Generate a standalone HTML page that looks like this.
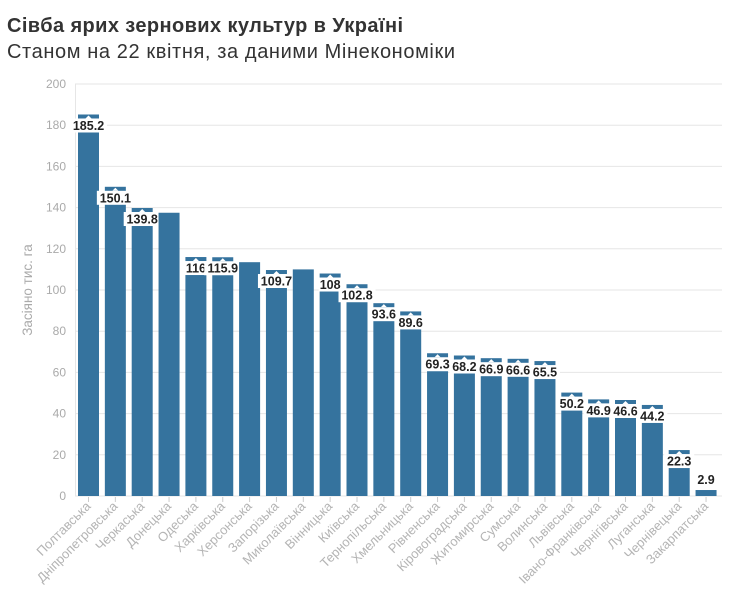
<!DOCTYPE html>
<html><head><meta charset="utf-8"><style>
body{margin:0;background:#fff;}
svg{display:block;font-family:"Liberation Sans","DejaVu Sans",sans-serif;}
</style></head><body>
<svg id="s" width="736" height="597" viewBox="0 0 736 597">
<text x="7" y="32" font-size="20" font-weight="bold" fill="#333" textLength="396">Сівба ярих зернових культур в Україні</text>
<text x="7" y="58" font-size="20" fill="#333" textLength="448">Станом на 22 квітня, за даними Мінекономіки</text>
</svg>
<script>
var s=document.getElementById('s'),ns='http://www.w3.org/2000/svg';
function el(t,a,txt){var e=document.createElementNS(ns,t);for(var k in a)e.setAttribute(k,a[k]);if(txt!=null)e.textContent=txt;s.appendChild(e);return e;}
var y0=496,k=2.06;
for(var v=0;v<=200;v+=20){var y=y0-v*k;
el('line',{x1:75,x2:722,y1:y,y2:y,stroke:'#e6e6e6','stroke-width':1});
el('text',{x:66,y:y+4,'font-size':12,fill:'#aaa','text-anchor':'end'},v);}
el('line',{x1:75.5,x2:75.5,y1:84,y2:496,stroke:'#e6e6e6'});
el('text',{x:0,y:0,'font-size':13.5,fill:'#aaa','text-anchor':'middle',transform:'translate(32,290) rotate(-90)'},'Засіяно тис. га');
var d=[['Полтавська',185.2,1],['Дніпропетровська',150.1,1],['Черкаська',139.8,1],['Донецька',137.5,0],['Одеська',116,1],['Харківська',115.9,1],['Херсонська',113.5,0],['Запорізька',109.7,1],['Миколаївська',110,0],['Вінницька',108,1],['Київська',102.8,1],['Тернопільська',93.6,1],['Хмельницька',89.6,1],['Рівненська',69.3,1],['Кіровоградська',68.2,1],['Житомирська',66.9,1],['Сумська',66.6,1],['Волинська',65.5,1],['Львівська',50.2,1],['Івано-Франківська',46.9,1],['Чернігівська',46.6,1],['Луганська',44.2,1],['Чернівецька',22.3,1],['Закарпатська',2.9,1]];
d.forEach(function(b,i){var x=78+i*26.85,cx=x+10.5,top=y0-b[1]*k;
el('rect',{x:x,y:top,width:21,height:b[1]*k,fill:'#35739e'});
el('line',{x1:cx,x2:cx,y1:497,y2:502,stroke:'#ccc'});
el('text',{x:0,y:0,'font-size':13,fill:'#b4b4b4','text-anchor':'end',transform:'translate('+(cx+3)+',507) rotate(-45)'},b[0]);
if(b[2]){var t=String(b[1]),w=t.length*7+2;
if(b[1]<10){el('text',{x:cx,y:top-6,'font-size':12.5,'font-weight':'bold',fill:'#222','text-anchor':'middle'},t);}
else{el('rect',{x:cx-w/2,y:top+4,width:w,height:14,fill:'#fff'});
el('path',{d:'M'+(cx-3)+' '+(top+4)+'L'+cx+' '+(top+1)+'L'+(cx+3)+' '+(top+4)+'Z',fill:'#fff'});
el('text',{x:cx,y:top+15.5,'font-size':12.5,'font-weight':'bold',fill:'#222','text-anchor':'middle'},t);}}
});
</script>
</body></html>
